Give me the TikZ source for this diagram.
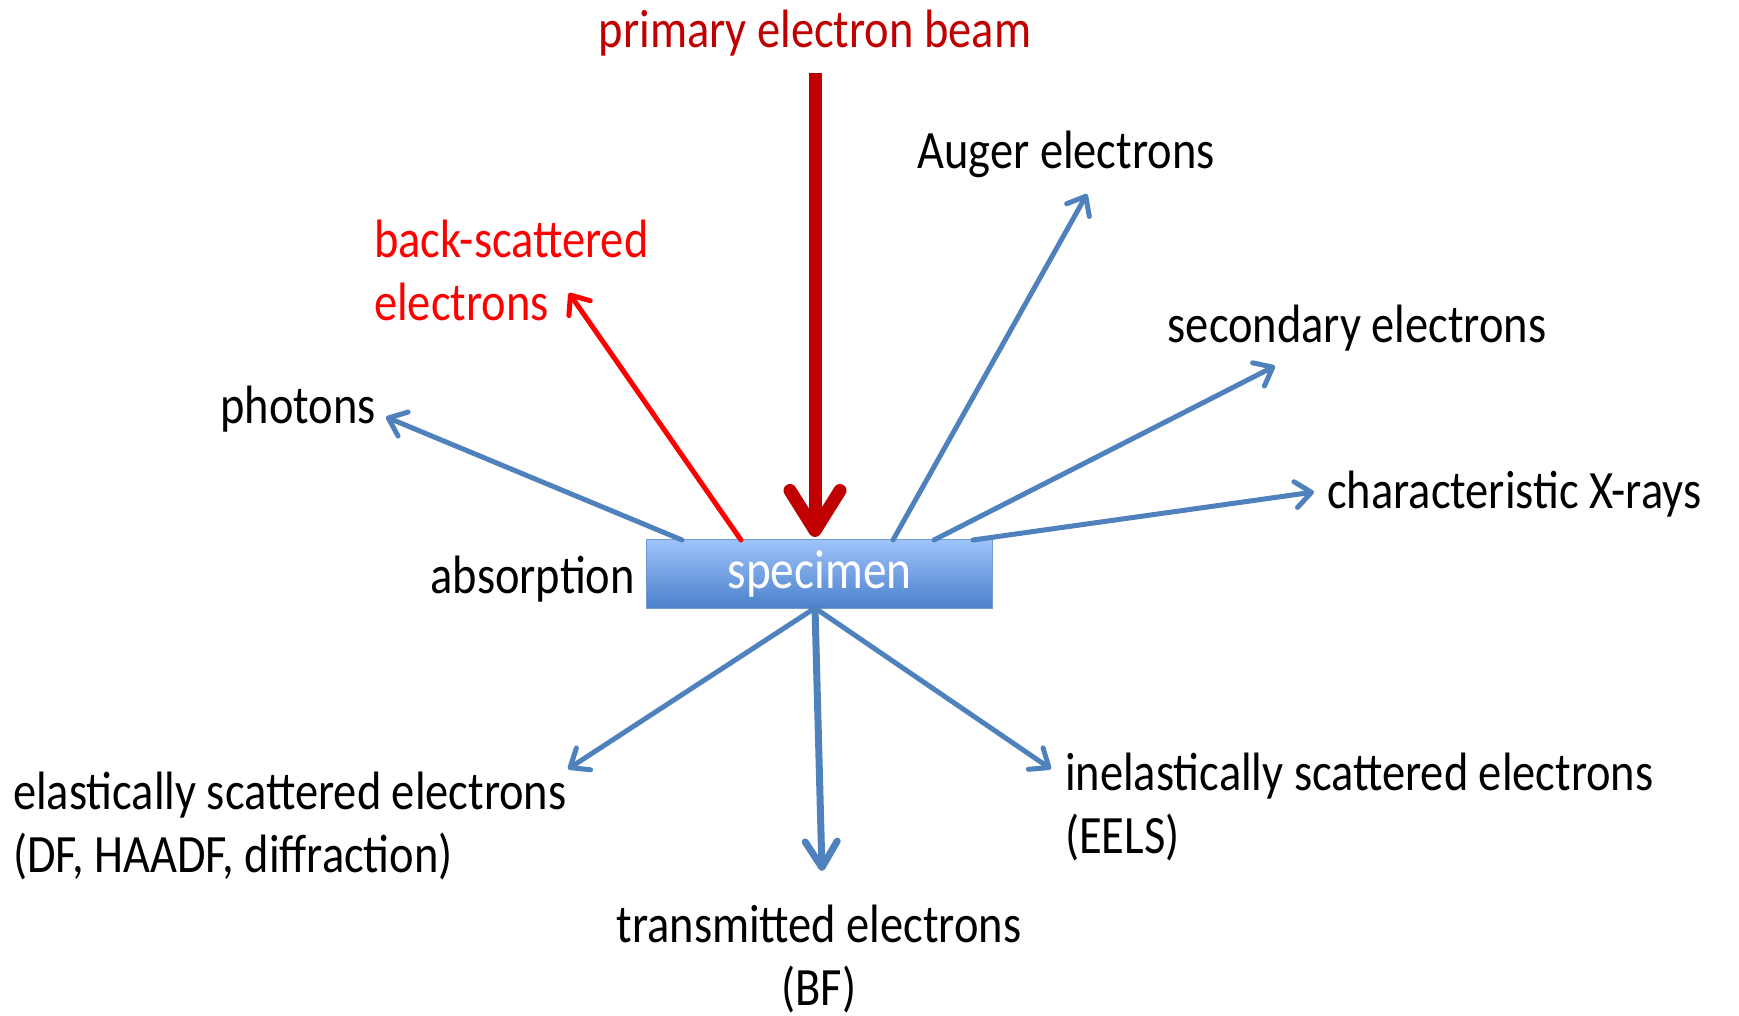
\documentclass[tikz,border=0pt]{standalone}
\usepackage{fontspec}
\setmainfont{Carlito}[FakeStretch=0.86]
\usetikzlibrary{arrows.meta}
\definecolor{obl}{HTML}{4F81BD}
\definecolor{dred}{HTML}{C00000}
\definecolor{bred}{HTML}{FF0000}
\definecolor{boxtop}{HTML}{9EC3FA}
\definecolor{boxbot}{HTML}{4A80CB}
\tikzset{
  lbl/.style={font=\fontsize{54}{63}\selectfont, inner sep=0pt, text=black},
  barrow/.style={draw=obl, line width=5pt, line cap=round, -{Straight Barb[length=16pt, width=26pt, line width=5pt, round]}},
}
\begin{document}
\begin{tikzpicture}[x=1pt,y=-1pt]
\useasboundingbox (0,0) rectangle (1739,1016);
% specimen
\node[draw=obl!80, line width=1.2pt, top color=boxtop, bottom color=boxbot, minimum width=346pt, minimum height=69pt, inner sep=0pt, anchor=north west, text=white, font=\fontsize{55}{50}\selectfont] (spec) at (646,539) {specimen};
% labels
\node[lbl, text=dred] (beam) at (815,33) {primary electron beam};
\node[lbl] (auger) at (1066,154) {Auger electrons};
\node[lbl] (second) at (1357,328) {secondary electrons};
\node[lbl, anchor=west] (xray) at (1327,494) {characteristic X-rays};
\node[lbl, anchor=east] (phot) at (376,409) {photons};
\node[lbl, anchor=west, text=bred, align=left] (bse) at (374,270) {back-scattered\\electrons};
\node[lbl, anchor=east] (abs) at (635,579) {absorption};
\node[lbl, anchor=west, align=left] (elas) at (13,826) {elastically scattered electrons\\(DF, HAADF, diffraction)};
\node[lbl, anchor=north, align=center] (trans) at (819,905) {transmitted electrons\\(BF)};
\node[lbl, anchor=west, align=left] (inel) at (1065,807) {inelastically scattered electrons\\(EELS)};
% coordinates
\coordinate (beamtop) at (815,73);
\coordinate (beamtip) at (815,537);
\coordinate (augS) at (893,540);
\coordinate (augE) at (1087,194);
\coordinate (secS) at (934,540);
\coordinate (secE) at (1275,366);
\coordinate (xrS) at (973,540);
\coordinate (xrE) at (1314,492);
\coordinate (phS) at (682,540);
\coordinate (phE) at (386,417);
\coordinate (bsS) at (741,540);
\coordinate (bsE) at (569,293);
\coordinate (bot) at (815,608);
\coordinate (elE) at (568,769);
\coordinate (trE) at (822,871);
\coordinate (inE) at (1051,769);
% arrows
\draw[draw=dred, line width=13pt, -{Straight Barb[length=40pt, width=50pt, line width=13pt, round]}] (beamtop) -- (beamtip);
\draw[barrow] (augS) -- (augE);
\draw[barrow] (secS) -- (secE);
\draw[barrow] (xrS) -- (xrE);
\draw[barrow] (phS) -- (phE);
\draw[draw=bred, line width=5pt, line cap=round, -{Straight Barb[length=16pt, width=26pt, line width=5pt, round]}] (bsS) -- (bsE);
\draw[barrow] (bot) -- (elE);
\draw[barrow] (bot) -- (inE);
\draw[barrow, line width=7pt, -{Straight Barb[length=26pt, width=32pt, line width=7pt, round]}] (bot) -- (trE);
\end{tikzpicture}
\end{document}
